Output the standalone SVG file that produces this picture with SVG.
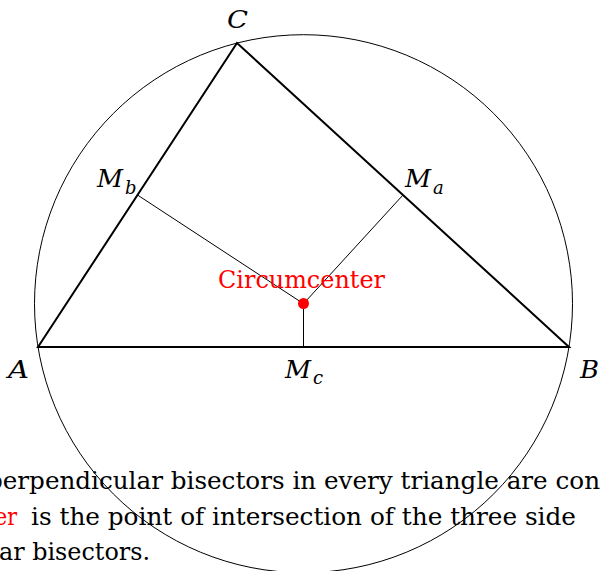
<svg xmlns="http://www.w3.org/2000/svg" width="600" height="571" viewBox="0 0 600 571">
<style>
.t{font-size:25px;fill:#000}
.m{font-style:italic}
.sub{font-style:italic;font-size:18px}
.red{fill:#ff0000}
.thin{stroke:#000;stroke-width:1;fill:none}
.thick{stroke:#000;stroke-width:2;fill:none;stroke-linejoin:miter}
</style>
<rect width="600" height="571" fill="#fff"/>
<g id="circumcircle">
<circle class="thin" cx="303.5" cy="303.7" r="269"/>
</g>
<g id="triangle">
<polygon class="thick" points="38,347 569,347 237,43"/>
</g>
<g id="connectors">
<line class="thin" x1="403" y1="195" x2="303.5" y2="303.7"/>
<line class="thin" x1="137.5" y1="195" x2="303.5" y2="303.7"/>
<line class="thin" x1="303.5" y1="347" x2="303.5" y2="303.7"/>
</g>
<g font-family="DejaVu Serif, serif">
<g id="circumcenter">
<circle cx="303.5" cy="303.5" r="5.5" fill="#ff0000"/>
<text class="t red" x="218" y="288" textLength="167" lengthAdjust="spacingAndGlyphs">Circumcenter</text>
</g>
<g id="vertex-A"><text class="t m" x="8" y="378" textLength="21" lengthAdjust="spacingAndGlyphs">A</text></g>
<g id="vertex-B"><text class="t m" x="580" y="378" textLength="19" lengthAdjust="spacingAndGlyphs">B</text></g>
<g id="vertex-C"><text class="t m" x="227" y="28" textLength="21" lengthAdjust="spacingAndGlyphs">C</text></g>
<g id="midpoint-Ma"><text class="t m" x="405" y="187" textLength="26" lengthAdjust="spacingAndGlyphs">M</text><text class="sub" x="433" y="194">a</text></g>
<g id="midpoint-Mb"><text class="t m" x="97" y="187" textLength="26" lengthAdjust="spacingAndGlyphs">M</text><text class="sub" x="125" y="194">b</text></g>
<g id="midpoint-Mc"><text class="t m" x="285" y="378" textLength="26" lengthAdjust="spacingAndGlyphs">M</text><text class="sub" x="313" y="384">c</text></g>
<g id="caption">
<text class="t" x="-13" y="489" textLength="613" lengthAdjust="spacingAndGlyphs">perpendicular bisectors in every triangle are con</text>
<text class="t red" x="-5" y="525" textLength="22" lengthAdjust="spacingAndGlyphs">er</text>
<text class="t" x="31" y="525" textLength="545" lengthAdjust="spacingAndGlyphs">is the point of intersection of the three side</text>
<text class="t" x="-1" y="560" textLength="151" lengthAdjust="spacingAndGlyphs">ar bisectors.</text>
</g>
</g>
</svg>
